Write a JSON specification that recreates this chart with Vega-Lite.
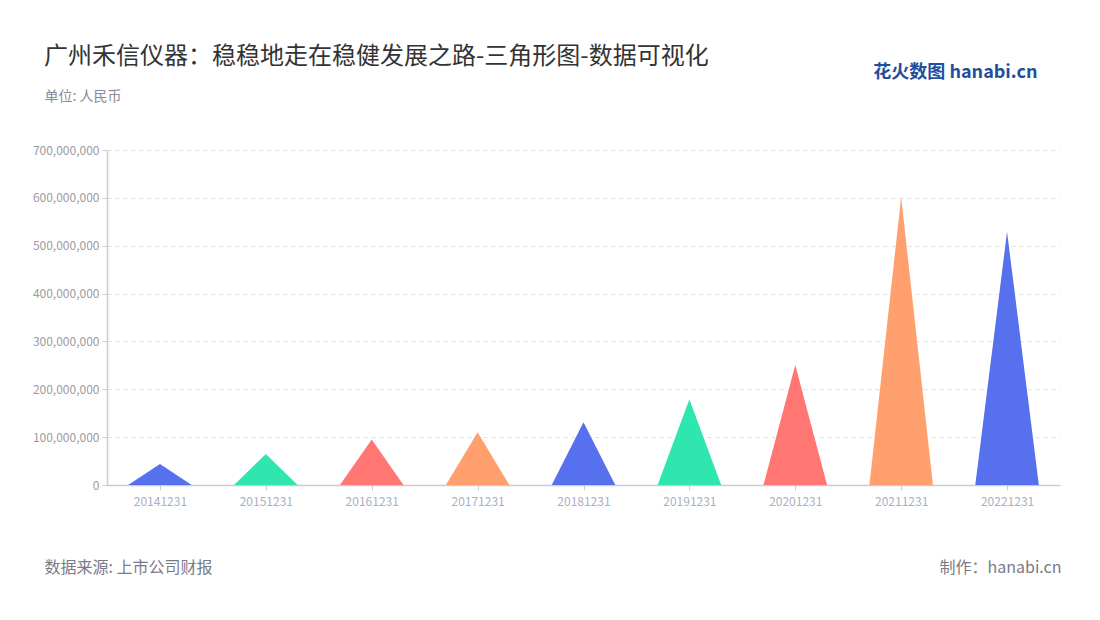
{
  "$schema": "https://vega.github.io/schema/vega-lite/v6.json",
  "autosize": "none",
  "width": 953,
  "height": 335,
  "padding": {"left": 107, "top": 150, "right": 40, "bottom": 135},
  "background": "white",
  "config": {
    "view": {"stroke": null},
    "font": "Noto Sans CJK SC"
  },
  "title": {
    "text": "广州禾信仪器：稳稳地走在稳健发展之路-三角形图-数据可视化",
    "anchor": "start",
    "frame": "group",
    "fontSize": 24,
    "fontWeight": "normal",
    "color": "#333333",
    "font": "Noto Sans CJK SC",
    "dx": -63,
    "dy": 16,
    "offset": 10
  },
  "data": {
    "values": [
      {"year": "20141231", "value": 44000000},
      {"year": "20151231", "value": 65000000},
      {"year": "20161231", "value": 95000000},
      {"year": "20171231", "value": 110000000},
      {"year": "20181231", "value": 131000000},
      {"year": "20191231", "value": 179000000},
      {"year": "20201231", "value": 251000000},
      {"year": "20211231", "value": 602000000},
      {"year": "20221231", "value": 529000000}
    ]
  },
  "layer": [
    {
      "transform": [
        {"window": [{"op": "row_number", "as": "rn"}]},
        {"calculate": "0", "as": "l"},
        {"calculate": "datum.value", "as": "p"},
        {"calculate": "0", "as": "r"},
        {"fold": ["l", "p", "r"], "as": ["vertex", "h"]},
        {"calculate": "datum.rn - 1 + (datum.vertex === 'l' ? -0.3 : (datum.vertex === 'r' ? 0.3 : 0))", "as": "vx"}
      ],
      "mark": {"type": "area", "opacity": 1, "interpolate": "linear"},
      "encoding": {
        "x": {
          "field": "vx", "type": "quantitative",
          "scale": {"domain": [-0.5, 8.5], "nice": false, "zero": false},
          "axis": {
            "orient": "top", "labels": false, "ticks": false, "domain": false, "grid": false,
            "title": "花火数图 hanabi.cn",
            "titleFont": "Noto Sans CJK SC", "titleFontSize": 18, "titleFontWeight": "bold",
            "titleColor": "#1f4e9e", "titleAngle": 0,
            "titleX": 930, "titleY": -78, "titleAlign": "right", "titleBaseline": "middle"
          }
        },
        "y": {
          "field": "h", "type": "quantitative", "stack": null,
          "scale": {"domain": [0, 700000000], "nice": false},
          "axis": {
            "values": [0, 100000000, 200000000, 300000000, 400000000, 500000000, 600000000, 700000000],
            "format": ",d",
            "labelColor": "#9a9a9f", "labelFontSize": 12, "labelFont": "Noto Sans CJK SC", "labelPadding": 3,
            "tickColor": "#cccccc", "tickSize": 5,
            "domainColor": "#cccccc", "domainWidth": 1.5,
            "gridColor": "#e0e0e0", "gridDash": [4, 4], "gridWidth": 1,
            "title": "单位: 人民币",
            "titleFont": "Noto Sans CJK SC", "titleFontSize": 14, "titleFontWeight": "normal",
            "titleColor": "#8a8a95", "titleAngle": 0,
            "titleX": -63, "titleY": -54, "titleAlign": "left", "titleBaseline": "middle"
          }
        },
        "color": {
          "field": "year", "type": "nominal", "legend": null,
          "scale": {"range": ["#5670EE", "#2EE6AE", "#FF7672", "#FFA06E", "#5670EE", "#2EE6AE", "#FF7672", "#FFA06E", "#5670EE"]}
        }
      }
    },
    {
      "mark": {"type": "point", "opacity": 0},
      "encoding": {
        "x": {
          "field": "year", "type": "ordinal",
          "scale": {"type": "point", "padding": 0.5},
          "axis": {
            "orient": "bottom", "labelAngle": 0,
            "labelColor": "#a8b0c4", "labelFontSize": 12, "labelFont": "Noto Sans CJK SC", "labelPadding": 6,
            "tickColor": "#cccccc", "tickSize": 5,
            "domainColor": "#cccccc", "domainWidth": 1.5,
            "title": "数据来源: 上市公司财报",
            "titleFont": "Noto Sans CJK SC", "titleFontSize": 16, "titleFontWeight": "normal",
            "titleColor": "#7a7a88",
            "titleX": -63, "titleY": 82, "titleAlign": "left", "titleBaseline": "middle"
          }
        },
        "y": {
          "field": "value", "type": "quantitative",
          "scale": {"domain": [0, 700000000], "nice": false},
          "axis": {
            "orient": "right", "labels": false, "ticks": false, "domain": false, "grid": false,
            "title": "制作：hanabi.cn",
            "titleFont": "Noto Sans CJK SC", "titleFontSize": 16, "titleFontWeight": "normal",
            "titleColor": "#7a7a88", "titleAngle": 0,
            "titleX": 1, "titleY": 417, "titleAlign": "right", "titleBaseline": "middle"
          }
        }
      }
    }
  ],
  "resolve": {
    "scale": {"x": "independent", "y": "independent"},
    "axis": {"x": "independent", "y": "independent"}
  }
}
